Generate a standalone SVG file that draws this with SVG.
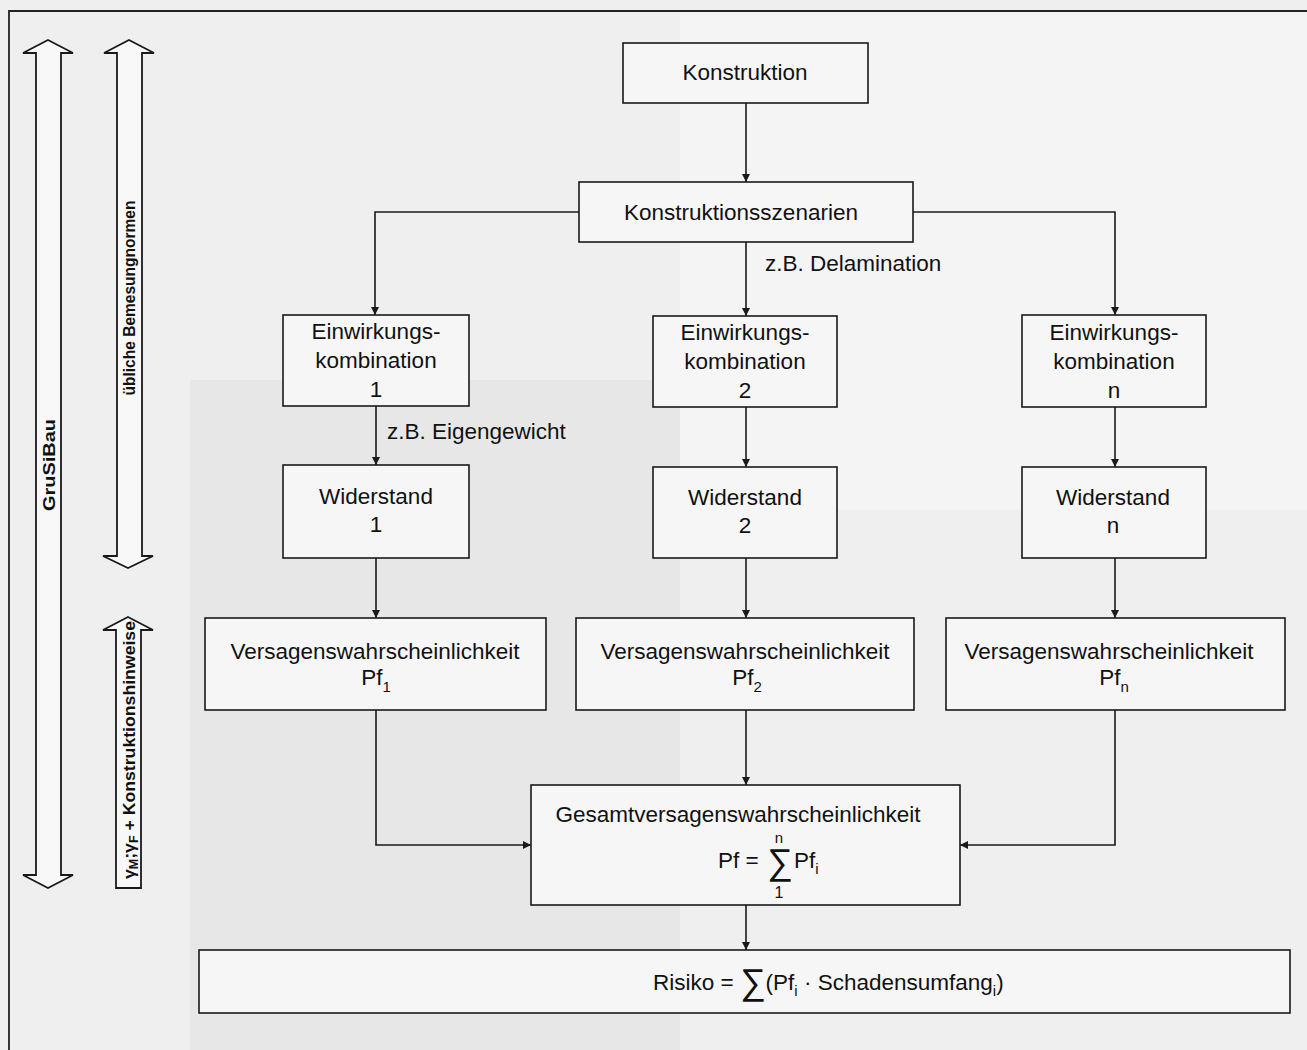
<svg xmlns="http://www.w3.org/2000/svg" width="1307" height="1050" viewBox="0 0 1307 1050">
<style>
.bg{fill:#efefef}
.box{fill:#f6f6f6;stroke:#1a1a1a;stroke-width:1.6}
.t{font-family:"Liberation Sans",Arial,sans-serif;font-size:22.5px;fill:#111;text-anchor:middle}
.ts{font-family:"Liberation Sans",Arial,sans-serif;font-size:22.5px;fill:#111}
.sub{font-size:15px}
.lbl{font-family:"Liberation Sans",Arial,sans-serif;font-size:17px;font-weight:bold;fill:#111;text-anchor:middle}
.con{fill:none;stroke:#1a1a1a;stroke-width:1.6}
.bigarrow{fill:#f8f8f8;stroke:#1a1a1a;stroke-width:1.8;stroke-linejoin:miter}
</style>
<defs>
<marker id="ah" viewBox="0 0 10 10" refX="10" refY="5" markerWidth="8" markerHeight="8" markerUnits="userSpaceOnUse" orient="auto">
<path d="M0,0 L10,5 L0,10 Z" fill="#1a1a1a"/>
</marker>
</defs>
<rect class="bg" x="0" y="0" width="1307" height="1050"/>
<rect x="680" y="10" width="627" height="500" fill="#f4f4f4"/>
<rect x="190" y="380" width="490" height="670" fill="#e7e7e7"/>
<path d="M9,1050 L9,11 L1307,11" fill="none" stroke="#222" stroke-width="1.8"/>

<g id="side-arrows">
<g id="arrow-grusibau">
<path class="bigarrow" d="M48,40 L73,53 L61,53 L61,875 L73,875 L48,888 L23,875 L36,875 L36,53 L23,53 Z"/>
<text class="lbl" transform="translate(55,465) rotate(-90)" textLength="92" lengthAdjust="spacingAndGlyphs">GruSiBau</text>
</g>
<g id="arrow-bemessung">
<path class="bigarrow" d="M129,40 L154,53 L142,53 L142,556 L153,556 L128,568 L103,556 L117,556 L117,53 L104,53 Z"/>
<text class="lbl" transform="translate(135,298) rotate(-90)" textLength="195" lengthAdjust="spacingAndGlyphs">übliche Bemesungnormen</text>
</g>
<g id="arrow-konstruktionshinweise">
<path class="bigarrow" d="M128,617 L153,630 L141,630 L141,888 L116,888 L116,630 L103,630 Z"/>
<text class="lbl" transform="translate(135,750) rotate(-90)" textLength="258" lengthAdjust="spacingAndGlyphs">γ<tspan style="font-size:12px" dy="3">M</tspan><tspan dy="-3">;γ</tspan><tspan style="font-size:12px" dy="3">F</tspan><tspan dy="-3"> + Konstruktionshinweise</tspan></text>
</g>
</g>

<g id="connectors">
<line class="con" x1="746" y1="103" x2="746" y2="182" marker-end="url(#ah)"/>
<polyline class="con" points="579,212 375,212 375,315" marker-end="url(#ah)"/>
<line class="con" x1="746" y1="242" x2="746" y2="316" marker-end="url(#ah)"/>
<polyline class="con" points="913,212 1115,212 1115,315" marker-end="url(#ah)"/>
<line class="con" x1="376" y1="406" x2="376" y2="465" marker-end="url(#ah)"/>
<line class="con" x1="746" y1="407" x2="746" y2="467" marker-end="url(#ah)"/>
<line class="con" x1="1115" y1="407" x2="1115" y2="467" marker-end="url(#ah)"/>
<line class="con" x1="376" y1="558" x2="376" y2="618" marker-end="url(#ah)"/>
<line class="con" x1="746" y1="558" x2="746" y2="618" marker-end="url(#ah)"/>
<line class="con" x1="1115" y1="558" x2="1115" y2="618" marker-end="url(#ah)"/>
<polyline class="con" points="376,710 376,845 531,845" marker-end="url(#ah)"/>
<line class="con" x1="746" y1="710" x2="746" y2="785" marker-end="url(#ah)"/>
<polyline class="con" points="1115,710 1115,845 960,845" marker-end="url(#ah)"/>
<line class="con" x1="746" y1="905" x2="746" y2="950" marker-end="url(#ah)"/>
<text class="ts" x="765" y="271">z.B. Delamination</text>
<text class="ts" x="387" y="439">z.B. Eigengewicht</text>
</g>

<g id="konstruktion">
<rect class="box" x="623" y="43" width="245" height="60"/>
<text class="t" x="745" y="80">Konstruktion</text>
</g>
<g id="szenarien">
<rect class="box" x="579" y="182" width="334" height="60"/>
<text class="t" x="741" y="220">Konstruktionsszenarien</text>
</g>

<g id="einwirkung-1">
<rect class="box" x="283" y="315" width="186" height="91"/>
<text class="t" x="376" y="339">Einwirkungs-</text>
<text class="t" x="376" y="368">kombination</text>
<text class="t" x="376" y="397">1</text>
</g>
<g id="einwirkung-2">
<rect class="box" x="653" y="316" width="184" height="91"/>
<text class="t" x="745" y="340">Einwirkungs-</text>
<text class="t" x="745" y="369">kombination</text>
<text class="t" x="745" y="398">2</text>
</g>
<g id="einwirkung-n">
<rect class="box" x="1022" y="315" width="184" height="92"/>
<text class="t" x="1114" y="340">Einwirkungs-</text>
<text class="t" x="1114" y="369">kombination</text>
<text class="t" x="1114" y="398">n</text>
</g>

<g id="widerstand-1">
<rect class="box" x="283" y="465" width="186" height="93"/>
<text class="t" x="376" y="504">Widerstand</text>
<text class="t" x="376" y="532">1</text>
</g>
<g id="widerstand-2">
<rect class="box" x="653" y="467" width="184" height="91"/>
<text class="t" x="745" y="505">Widerstand</text>
<text class="t" x="745" y="533">2</text>
</g>
<g id="widerstand-n">
<rect class="box" x="1022" y="467" width="184" height="91"/>
<text class="t" x="1113" y="505">Widerstand</text>
<text class="t" x="1113" y="533">n</text>
</g>

<g id="versagen-1">
<rect class="box" x="205" y="618" width="341" height="92"/>
<text class="t" x="375" y="659">Versagenswahrscheinlichkeit</text>
<text class="t" x="376" y="685">Pf<tspan class="sub" dy="7">1</tspan></text>
</g>
<g id="versagen-2">
<rect class="box" x="576" y="618" width="338" height="92"/>
<text class="t" x="745" y="659">Versagenswahrscheinlichkeit</text>
<text class="t" x="747" y="685">Pf<tspan class="sub" dy="7">2</tspan></text>
</g>
<g id="versagen-n">
<rect class="box" x="946" y="618" width="339" height="92"/>
<text class="t" x="1109" y="659">Versagenswahrscheinlichkeit</text>
<text class="t" x="1114" y="685">Pf<tspan class="sub" dy="7">n</tspan></text>
</g>

<g id="gesamt">
<rect class="box" x="531" y="785" width="429" height="120"/>
<text class="t" x="738" y="822">Gesamtversagenswahrscheinlichkeit</text>
<text class="ts" x="718" y="868">Pf =</text>
<text class="ts" x="767" y="874" style="font-size:36px">∑</text>
<text class="t" x="779" y="843" style="font-size:15px">n</text>
<text class="t" x="779" y="898" style="font-size:16px">1</text>
<text class="ts" x="794" y="868">Pf<tspan class="sub" dy="6">i</tspan></text>
</g>

<g id="risiko">
<rect class="box" x="199" y="950" width="1091" height="63"/>
<text class="ts" x="653" y="990">Risiko = <tspan style="font-size:36px" dy="4">∑</tspan><tspan dy="-4">(Pf</tspan><tspan class="sub" dy="6">i</tspan><tspan dy="-6"> · Schadensumfang</tspan><tspan class="sub" dy="6">i</tspan><tspan dy="-6">)</tspan></text>
</g>
</svg>
